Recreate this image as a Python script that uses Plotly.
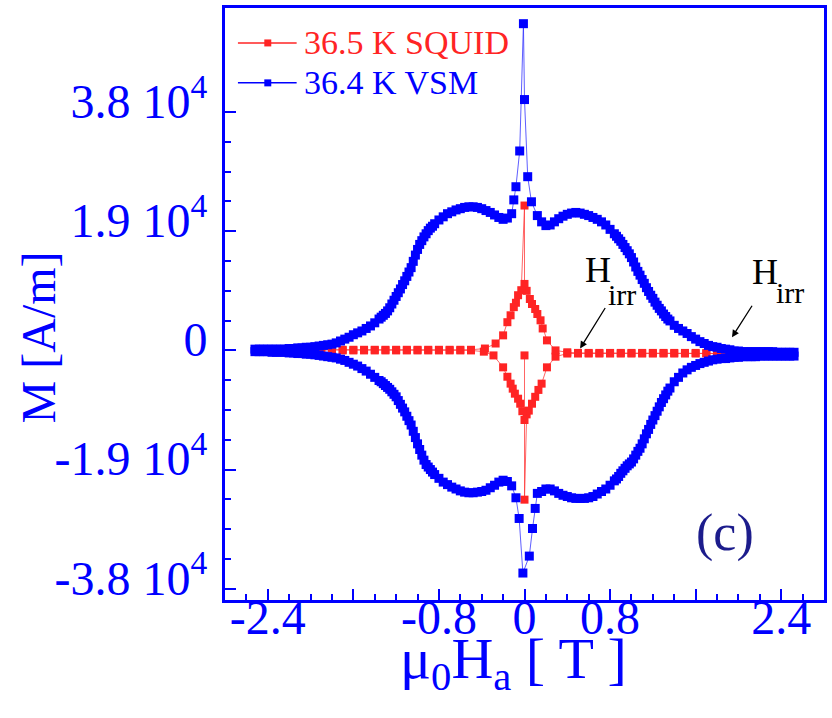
import plotly.graph_objects as go

# ---------------------------------------------------------------------------
# VSM loop at 36.4 K  (field in T, magnetisation in units of 1e4 A/m)
# field steps of the sweep on the positive side; negative side mirrors them
H_pos = [0.12, 0.16, 0.20, 0.24, 0.28, 0.32, 0.36, 0.40, 0.44, 0.48,
         0.52, 0.56, 0.60, 0.64, 0.68, 0.72, 0.76, 0.80, 0.84,
         0.86, 0.88, 0.90, 0.92, 0.94, 0.96, 0.98, 1.00, 1.02, 1.04,
         1.06, 1.08, 1.10, 1.12, 1.14, 1.16, 1.18, 1.20, 1.22, 1.24,
         1.26, 1.28, 1.30, 1.32, 1.34,
         1.36, 1.40, 1.44, 1.48, 1.52, 1.56, 1.60, 1.64, 1.68, 1.72,
         1.76, 1.80, 1.84, 1.88, 1.92, 1.96, 2.00, 2.04, 2.08, 2.12,
         2.16, 2.20, 2.24, 2.28, 2.32, 2.36, 2.40, 2.44, 2.48, 2.52]

# decreasing-field branch, H > 0
M_up_pos = [2.15, 2.05, 1.99, 2.00, 2.05, 2.10, 2.14, 2.17, 2.19, 2.20,
            2.19, 2.17, 2.15, 2.12, 2.09, 2.05, 2.00, 1.93, 1.86,
            1.82, 1.78, 1.74, 1.69, 1.64, 1.59, 1.54, 1.48, 1.41, 1.33,
            1.26, 1.20, 1.13, 1.07, 1.00, 0.94, 0.88, 0.83, 0.77, 0.72,
            0.67, 0.63, 0.58, 0.54, 0.50,
            0.47, 0.40, 0.35, 0.31, 0.27, 0.22, 0.18, 0.14, 0.11, 0.08,
            0.06, 0.05, 0.03, 0.02, 0.01, -0.01, -0.01, -0.02, -0.02, -0.02,
            -0.02, -0.02, -0.02, -0.02, -0.02, -0.03, -0.03, -0.03, -0.03, -0.03]

# increasing-field branch, H > 0
M_dn_pos = [-2.28, -2.25, -2.21, -2.21, -2.24, -2.28, -2.31, -2.33, -2.35, -2.36,
            -2.36, -2.36, -2.35, -2.33, -2.29, -2.25, -2.21, -2.15, -2.08,
            -2.05, -2.01, -1.96, -1.92, -1.88, -1.84, -1.81, -1.78, -1.73, -1.67,
            -1.61, -1.56, -1.49, -1.41, -1.33, -1.26, -1.18, -1.11, -1.04, -0.97,
            -0.90, -0.83, -0.77, -0.71, -0.65,
            -0.60, -0.50, -0.43, -0.36, -0.31, -0.27, -0.24, -0.21, -0.19, -0.17,
            -0.15, -0.14, -0.13, -0.13, -0.12, -0.11, -0.11, -0.10, -0.10, -0.10,
            -0.10, -0.09, -0.09, -0.09, -0.09, -0.09, -0.09, -0.09, -0.09, -0.09]

# decreasing-field branch, H < 0 (ordered from -0.12 to -2.52)
M_up_neg = [2.18, 2.11, 2.09, 2.12, 2.16, 2.20, 2.23, 2.26, 2.28, 2.29,
            2.29, 2.28, 2.26, 2.24, 2.21, 2.18, 2.13, 2.08, 2.02,
            1.98, 1.95, 1.91, 1.86, 1.81, 1.75, 1.69, 1.61, 1.52, 1.42,
            1.32, 1.25, 1.18, 1.11, 1.05, 0.98, 0.92, 0.86, 0.80, 0.74,
            0.68, 0.63, 0.59, 0.56, 0.53,
            0.50, 0.44, 0.39, 0.35, 0.31, 0.28, 0.25, 0.21, 0.18, 0.15,
            0.12, 0.10, 0.09, 0.08, 0.07, 0.06, 0.05, 0.05, 0.04, 0.04,
            0.03, 0.03, 0.02, 0.02, 0.02, 0.02, 0.02, 0.02, 0.02, 0.02]

# increasing-field branch, H < 0 (ordered from -0.12 to -2.52)
M_dn_neg = [-2.16, -2.09, -2.07, -2.10, -2.15, -2.19, -2.23, -2.25, -2.26, -2.27,
            -2.27, -2.26, -2.24, -2.21, -2.18, -2.14, -2.10, -2.04, -1.98,
            -1.94, -1.90, -1.86, -1.82, -1.75, -1.67, -1.58, -1.49, -1.39, -1.29,
            -1.19, -1.12, -1.05, -0.98, -0.92, -0.86, -0.80, -0.74, -0.70, -0.66,
            -0.62, -0.59, -0.56, -0.53, -0.50,
            -0.48, -0.43, -0.38, -0.33, -0.29, -0.25, -0.22, -0.19, -0.16, -0.14,
            -0.12, -0.11, -0.10, -0.09, -0.08, -0.07, -0.06, -0.06, -0.05, -0.05,
            -0.04, -0.04, -0.03, -0.03, -0.03, -0.03, -0.02, -0.02, -0.02, -0.02]

# flux-jump spikes around zero field
H_spike_up = [0.065, 0.03, 0.0, -0.01, -0.045, -0.08, -0.10]
M_spike_up = [2.37, 2.77, 4.00, 5.21, 3.18, 2.61, 2.40]
H_spike_dn = [-0.08, -0.05, -0.015, 0.045, 0.075, 0.10]
M_spike_dn = [-2.35, -2.68, -3.55, -3.28, -2.84, -2.52]

# ---------------------------------------------------------------------------
# SQUID loop at 36.5 K, in measurement order
H_squid = [0.00, 0.00,
           0.02, 0.04, 0.07, 0.10, 0.13, 0.16, 0.21, 0.29, 0.40,
           0.5, 0.6, 0.7, 0.8, 0.9, 1.0, 1.1, 1.2, 1.3, 1.4, 1.5, 1.6, 1.7,
           1.8, 1.9, 2.0, 2.1, 2.2,
           2.1, 2.0, 1.9, 1.8, 1.7, 1.6, 1.5, 1.4, 1.3, 1.2, 1.1, 1.0, 0.9,
           0.8, 0.7, 0.6, 0.5,
           0.40, 0.29, 0.21, 0.17, 0.15, 0.12, 0.10, 0.07, 0.05, 0.02, 0.00, 0.00,
           -0.03, -0.06, -0.08, -0.10, -0.13, -0.16, -0.20, -0.27, -0.37,
           -0.5, -0.6, -0.7, -0.8, -0.9, -1.0, -1.1, -1.2, -1.3, -1.4, -1.5,
           -1.6, -1.7, -1.8, -1.9, -2.0, -2.1, -2.2,
           -2.1, -2.0, -1.9, -1.8, -1.7, -1.6, -1.5, -1.4, -1.3, -1.2, -1.1,
           -1.0, -0.9, -0.8, -0.7, -0.6, -0.5,
           -0.38, -0.29, -0.20, -0.16, -0.13, -0.11, -0.09, -0.06, -0.04, -0.02, 0.00]
M_squid = [-0.08, -2.38,
           -1.02, -0.96, -0.85, -0.74, -0.63, -0.53, -0.27, -0.10, -0.05,
           -0.05, -0.05, -0.05, -0.05, -0.05, -0.05, -0.05, -0.05, -0.05, -0.05,
           -0.05, -0.05, -0.05, -0.05, -0.05, -0.05, -0.05, -0.05,
           -0.04, -0.04, -0.04, -0.04, -0.04, -0.04, -0.04, -0.04, -0.04, -0.04,
           -0.04, -0.04, -0.04, -0.04, -0.04, -0.04, -0.04,
           -0.03, 0.00, 0.16, 0.35, 0.48, 0.58, 0.66, 0.74, 0.82, 0.95, 1.06, 2.31,
           0.96, 0.88, 0.76, 0.69, 0.56, 0.45, 0.24, 0.11, 0.03,
           0.01, 0.01, 0.01, 0.01, 0.01, 0.01, 0.01, 0.01, 0.01, 0.01, 0.01,
           0.01, 0.01, 0.01, 0.01, 0.01, 0.01, 0.01,
           0.00, 0.00, 0.00, 0.00, 0.00, 0.00, 0.00, 0.00, 0.00, 0.00, 0.00,
           0.00, 0.00, 0.00, 0.00, 0.00, 0.00,
           -0.02, -0.08, -0.27, -0.42, -0.53, -0.61, -0.69, -0.77, -0.85, -0.97, -1.11]

# axis ticks
x_tick_vals = [-2.4, -1.6, -0.8, 0.0, 0.8, 1.6, 2.4]
x_tick_text = ["-2.4", "", "-0.8", "0", "0.8", "", "2.4"]
y_tick_vals = [-3.8, -1.9, 0.0, 1.9, 3.8]
y_tick_text = ["-3.8 10<sup>4</sup>", "-1.9 10<sup>4</sup>", "0",
               "1.9 10<sup>4</sup>", "3.8 10<sup>4</sup>"]

assert len(H_pos) == len(M_up_pos) == len(M_dn_pos) == len(M_up_neg) == len(M_dn_neg)
assert len(H_squid) == len(M_squid)

# ---------------------------------------------------------------------------
BLUE = "#0000ff"
RED = "#ff2424"
FONT = "Liberation Serif"

H_neg = [-h for h in H_pos]
vsm_x = H_pos[::-1] + H_spike_up + H_neg + H_neg[::-1] + H_spike_dn + H_pos
vsm_y = M_up_pos[::-1] + M_spike_up + M_up_neg + M_dn_neg[::-1] + M_spike_dn + M_dn_pos

fig = go.Figure()
fig.add_trace(go.Scatter(
    x=H_squid, y=M_squid, mode="lines+markers", name="36.5 K SQUID",
    line=dict(color="rgba(255,50,50,0.75)", width=1),
    marker=dict(symbol="square", size=8, color=RED, line=dict(width=0)),
))
fig.add_trace(go.Scatter(
    x=vsm_x, y=vsm_y, mode="lines+markers", name="36.4 K VSM",
    line=dict(color="rgba(40,40,255,0.75)", width=1),
    marker=dict(symbol="square", size=9, color=BLUE, line=dict(width=0)),
))

# plot-area geometry (pixels)
W, HGT = 832, 718
ML, MR, MT, MB = 225, 5, 7, 118
PW = W - ML - MR
PH = HGT - MT - MB


def px(xp):
    return (xp - ML) / PW


def py(yp):
    return (MT + PH - yp) / PH


y_minor = [round(k * 0.475, 4) for k in range(-8, 9) if k % 4 != 0]

fig.update_layout(
    width=W, height=HGT,
    margin=dict(l=ML, r=MR, t=MT, b=MB),
    plot_bgcolor="white", paper_bgcolor="white",
    showlegend=False,
    font=dict(family=FONT, color=BLUE),
    xaxis=dict(
        range=[-2.80, 2.80],
        tickmode="array", tickvals=x_tick_vals, ticktext=x_tick_text,
        ticks="inside", ticklen=11, tickwidth=2, tickcolor=BLUE,
        tickfont=dict(family=FONT, size=48, color=BLUE),
        ticklabelstandoff=-27,
        minor=dict(tickmode="linear", tick0=0, dtick=0.2, ticks="inside",
                   ticklen=6, tickwidth=2, tickcolor=BLUE, showgrid=False),
        showline=True, linecolor=BLUE, linewidth=3, mirror=True,
        showgrid=False, zeroline=False,
    ),
    yaxis=dict(
        range=[-3.98, 5.46],
        tickmode="array", tickvals=y_tick_vals, ticktext=y_tick_text,
        ticks="inside", ticklen=11, tickwidth=2, tickcolor=BLUE,
        tickfont=dict(family=FONT, size=48, color=BLUE),
        ticklabelstandoff=5, ticklabelshift=-11,
        minor=dict(tickmode="array", tickvals=y_minor, ticks="inside",
                   ticklen=6, tickwidth=2, tickcolor=BLUE, showgrid=False),
        showline=True, linecolor=BLUE, linewidth=3, mirror=True,
        showgrid=False, zeroline=False,
    ),
)

annotations = []
# axis titles
annotations.append(dict(
    text="M [A/m]", xref="paper", yref="paper", x=px(38), y=py(337),
    xanchor="center", yanchor="middle", textangle=-90, showarrow=False,
    font=dict(family=FONT, size=48, color=BLUE)))
annotations.append(dict(
    text="\u03bc<sub>0</sub>H<sub>a</sub> [ T ]", xref="paper", yref="paper",
    x=px(515), y=py(624), xanchor="center", yanchor="top", showarrow=False,
    font=dict(family=FONT, size=58, color=BLUE)))

# legend entries
legend_rows = [("36.5 K SQUID", RED, 42), ("36.4 K VSM", BLUE, 82)]
shapes = []
for label, col, yrow in legend_rows:
    shapes.append(dict(type="line", xref="paper", yref="paper",
                       x0=px(238), x1=px(297), y0=py(yrow), y1=py(yrow),
                       line=dict(color=col, width=1.5)))
    shapes.append(dict(type="rect", xref="paper", yref="paper",
                       x0=px(264.5), x1=px(271.5), y0=py(yrow + 3.5), y1=py(yrow - 3.5),
                       fillcolor=col, line=dict(width=0)))
    annotations.append(dict(
        text=label, xref="paper", yref="paper", x=px(302), y=py(yrow),
        xanchor="left", yanchor="middle", showarrow=False,
        font=dict(family=FONT, size=34, color=col)))

# irreversibility field markers: arrow, then "H" with a lowered "irr"
for tip_x, tip_y, ax, ay, hx, hy, sx, sy in [
        (0.52, 0.03, 26, -42, 585, 247, 608, 275),
        (1.94, 0.21, 21, -33, 753, 249, 777, 273)]:
    annotations.append(dict(
        x=tip_x, y=tip_y, xref="x", yref="y", text="", showarrow=True,
        ax=ax, ay=ay, arrowhead=2, arrowsize=1.1, arrowwidth=1.3,
        arrowcolor="black"))
    annotations.append(dict(
        text="H", xref="paper", yref="paper", x=px(hx), y=py(hy),
        xanchor="left", yanchor="top", showarrow=False,
        font=dict(family=FONT, size=36, color="black")))
    annotations.append(dict(
        text="irr", xref="paper", yref="paper", x=px(sx), y=py(sy),
        xanchor="left", yanchor="top", showarrow=False,
        font=dict(family=FONT, size=30, color="black")))

# panel label
annotations.append(dict(
    text="(c)", xref="paper", yref="paper", x=px(728), y=py(533),
    xanchor="center", yanchor="middle", showarrow=False,
    font=dict(family=FONT, size=52, color="#1c1c8c")))

fig.update_layout(annotations=annotations, shapes=shapes)
fig.write_html("out.html")
